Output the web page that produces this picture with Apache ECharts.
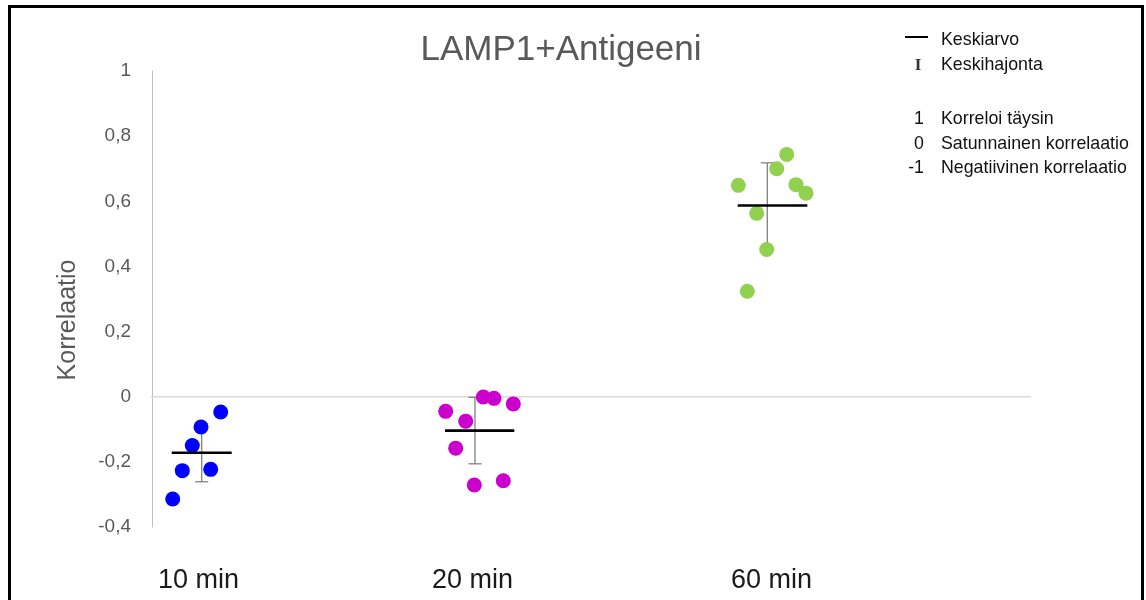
<!DOCTYPE html>
<html><head><meta charset="utf-8">
<script src="https://cdn.jsdelivr.net/npm/echarts@6/dist/echarts.min.js"></script>
<style>html,body{margin:0;padding:0;background:#fff}#c{width:1146px;height:600px}</style>
</head><body><div id="c"></div>
<script>
// ---- data ----
const titleText = 'LAMP1+Antigeeni';
const yAxisName = 'Korrelaatio';
const categories = ['10 min', '20 min', '60 min'];
const categoryLabelX = [0.465, 3.205, 6.195];
const yTicks = [-0.4, -0.2, 0, 0.2, 0.4, 0.6, 0.8, 1];
const points10 = [[0.687, -0.047], [0.49, -0.093], [0.403, -0.150], [0.303, -0.227], [0.587, -0.223], [0.207, -0.314]];
const points20 = [[3.313, -0.001], [3.42, -0.005], [3.613, -0.022], [2.937, -0.045], [3.137, -0.075], [3.037, -0.158], [3.223, -0.271], [3.513, -0.258]];
const points60 = [[6.347, 0.744], [6.247, 0.700], [5.863, 0.649], [6.44, 0.651], [6.54, 0.625], [6.047, 0.563], [6.147, 0.452], [5.953, 0.324]];
const meanValues = [-0.172, -0.104, 0.587];
const meanXRange = [[0.197, 0.797], [2.93, 3.623], [5.857, 6.553]];
const sdValues = [0.089, 0.102, 0.131];
const sdX = [0.497, 3.23, 6.153];
const legendSymbols = ['\u2014', 'I', '', '1', '0', '-1'];
const legendTexts = ['Keskiarvo', 'Keskihajonta', '', 'Korreloi täysin', 'Satunnainen korrelaatio', 'Negatiivinen korrelaatio'];

const colors = ['#0000ff', '#cc00cc', '#92d050'];
const FONT = "'Liberation Sans', Arial, sans-serif";

const chart = echarts.init(document.getElementById('c'), null, {renderer: 'canvas'});

const pointSets = [points10, points20, points60];
const series = [];

series.push({
  type: 'line', data: [[-0.09, 0], [8.79, 0]], symbol: 'none', clip: false, silent: true,
  lineStyle: {color: '#d9d9d9', width: 1.5}, z: 1
});

series.push({
  type: 'custom', z: 2, silent: true,
  data: sdX.map((x, i) => [x, meanValues[i], sdValues[i]]),
  renderItem: function (params, api) {
    const x = api.value(0), m = api.value(1), s = api.value(2);
    const top = api.coord([x, m + s]);
    const bot = api.coord([x, m - s]);
    const cw = 6.5;
    const st = {stroke: '#808080', lineWidth: 1.3};
    return {type: 'group', children: [
      {type: 'line', shape: {x1: top[0], y1: top[1], x2: bot[0], y2: bot[1]}, style: st},
      {type: 'line', shape: {x1: top[0] - cw, y1: top[1], x2: top[0] + cw, y2: top[1]}, style: st},
      {type: 'line', shape: {x1: bot[0] - cw, y1: bot[1], x2: bot[0] + cw, y2: bot[1]}, style: st}
    ]};
  }
});

pointSets.forEach((pts, i) => {
  series.push({
    type: 'scatter', data: pts, symbol: 'circle', symbolSize: 15, z: 3,
    itemStyle: {color: colors[i], opacity: 1}
  });
});

meanValues.forEach((m, i) => {
  series.push({
    type: 'line', data: [[meanXRange[i][0], m], [meanXRange[i][1], m]], symbol: 'none', z: 4,
    lineStyle: {color: '#000', width: 2.6}, silent: true
  });
});

const graphics = [
  {type: 'rect', shape: {x: 9.5, y: 6.5, width: 1133, height: 620}, style: {fill: 'none', stroke: '#000', lineWidth: 3}, z: 100},
  {type: 'text', x: 561, y: 50, style: {text: titleText, font: '35px ' + FONT, fill: '#595959', textAlign: 'center', textVerticalAlign: 'middle', align: 'center', verticalAlign: 'middle'}},
  {type: 'text', x: 68, y: 320, rotation: Math.PI / 2, style: {text: yAxisName, font: '25px ' + FONT, fill: '#595959', textAlign: 'center', textVerticalAlign: 'middle', align: 'center', verticalAlign: 'middle'}}
];
const legendY = [40, 65, 92, 119, 144, 168];
legendTexts.forEach((t, i) => {
  if (!t) return;
  graphics.push({type: 'text', x: 941, y: legendY[i], style: {text: t, font: '17.8px ' + FONT, fill: '#111', textAlign: 'left', textVerticalAlign: 'middle', align: 'left', verticalAlign: 'middle'}});
  const sym = legendSymbols[i];
  if (sym === '\u2014') {
    graphics.push({type: 'line', shape: {x1: 905, y1: legendY[i] - 3, x2: 928, y2: legendY[i] - 3}, style: {stroke: '#000', lineWidth: 2}});
  } else if (sym === 'I') {
    graphics.push({type: 'text', x: 918, y: legendY[i] + 1, style: {text: sym, font: 'bold 17px "Liberation Serif", serif', fill: '#333', textAlign: 'center', textVerticalAlign: 'middle', align: 'center', verticalAlign: 'middle'}});
  } else {
    graphics.push({type: 'text', x: 924, y: legendY[i], style: {text: sym, font: '17.8px ' + FONT, fill: '#111', textAlign: 'right', textVerticalAlign: 'middle', align: 'right', verticalAlign: 'middle'}});
  }
});

chart.setOption({
  animation: false,
  backgroundColor: '#fff',
  grid: {left: 152, right: 115, top: 71, bottom: 73, containLabel: false},
  xAxis: {
    type: 'value', min: 0, max: 8.79,
    axisLine: {show: false, onZero: false}, axisTick: {show: false}, splitLine: {show: false},
    axisLabel: {
      customValues: categoryLabelX, margin: 40,
      fontSize: 27, color: '#1a1a1a', fontFamily: FONT,
      formatter: function (v) {
        let best = 0;
        categoryLabelX.forEach((c, i) => { if (Math.abs(c - v) < Math.abs(categoryLabelX[best] - v)) best = i; });
        return categories[best];
      }
    }
  },
  yAxis: {
    type: 'value', min: yTicks[0], max: yTicks[yTicks.length - 1], interval: 0.2,
    axisLine: {show: true, lineStyle: {color: '#bfbfbf', width: 1}},
    axisTick: {show: false}, splitLine: {show: false},
    axisLabel: {
      margin: 21, fontSize: 19, color: '#595959', fontFamily: FONT,
      formatter: v => String(Math.round(v * 10) / 10).replace('.', ',')
    }
  },
  graphic: graphics,
  series: series
});
</script>
</body></html>
